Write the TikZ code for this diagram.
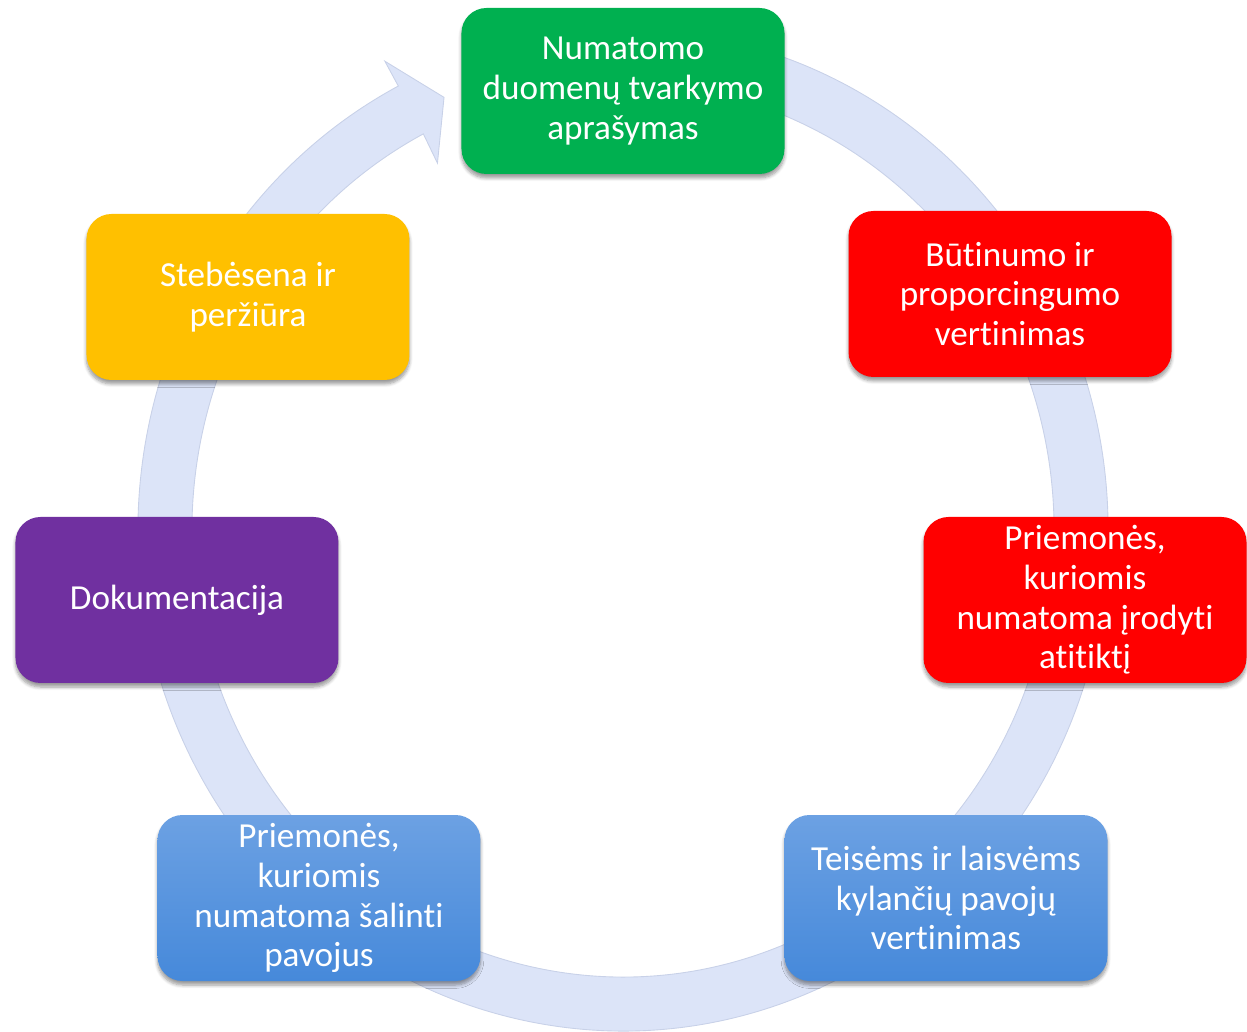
\documentclass[tikz,border=0pt]{standalone}
\usepackage{fontspec}
\setmainfont[Ligatures=NoCommon]{Carlito}
\usetikzlibrary{shadows.blur,positioning}
\definecolor{ringc}{RGB}{220,228,248}
\definecolor{ringl}{RGB}{200,209,232}
\definecolor{grn}{RGB}{0,176,80}
\definecolor{rd}{RGB}{255,0,0}
\definecolor{ylw}{RGB}{255,192,0}
\definecolor{prp}{RGB}{112,48,160}
\definecolor{bluetop}{RGB}{108,161,227}
\definecolor{bluebot}{RGB}{70,137,218}

\begin{document}
\begin{tikzpicture}[box/.style={rounded corners=0.5cm,minimum width=6.46cm,minimum height=3.32cm,align=center,text=white,font=\fontsize{20}{22.6}\selectfont,blur shadow={shadow xshift=0pt,shadow yshift=-0.08cm,shadow blur steps=6,shadow opacity=40}},
  bluebox/.style={box,top color=bluetop,bottom color=bluebot}]
  \useasboundingbox (-12.46,-10.04) rectangle (12.48,10.60);
  % ring arrow
  \filldraw[fill=ringc,draw=ringl,line width=.5pt] (80:9.70 and 10.02) arc[start angle=80,end angle=-242.4,x radius=9.70,y radius=10.02]
    -- (117.6:10.28 and 10.58) -- (113:9.16 and 9.40) -- (117.6:8.01 and 8.28)
    -- (117.6:8.62 and 8.94) arc[start angle=117.6,end angle=440,x radius=8.62,y radius=8.94] -- cycle;

  \node[box,fill=grn] (s1) at (0,8.78) {Numatomo\\duomenų tvarkymo\\aprašymas};
  \node[box,fill=rd] (s2) at (7.74,4.72) {Būtinumo ir\\proporcingumo\\vertinimas};
  \node[box,fill=rd] (s3) at (9.24,-1.40) {Priemonės,\\kuriomis\\numatoma įrodyti\\atitiktį};
  \node[bluebox] (s4) at (6.46,-7.36) {Teisėms ir laisvėms\\kylančių pavojų\\vertinimas};
  \node[bluebox] (s5) at (-6.08,-7.36) {Priemonės,\\kuriomis\\numatoma šalinti\\pavojus};
  \node[box,fill=prp] (s6) at (-8.92,-1.40) {Dokumentacija};
  \node[box,fill=ylw] (s7) at (-7.50,4.66) {Stebėsena ir\\peržiūra};
\end{tikzpicture}
\end{document}
